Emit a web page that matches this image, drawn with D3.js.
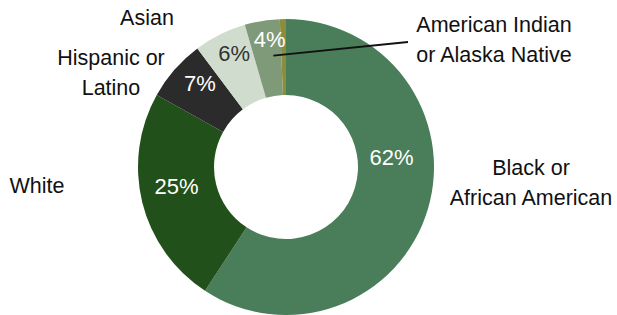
<!DOCTYPE html>
<html>
<head>
<meta charset="utf-8">
<script src="https://cdn.jsdelivr.net/npm/d3@7"></script>
<style>
  body { margin: 0; background: #fff; }
  text { font-family: "Liberation Sans", Arial, sans-serif; }
</style>
</head>
<body>
<svg id="chart" width="617" height="315"></svg>
<script>
// slices, clockwise from 12 o'clock
const categories = ["Black or African American", "White", "Hispanic or Latino", "Asian", "Other", "American Indian or Alaska Native"];
const values = [62, 25, 7, 6, 4, 0.7];
const valueLabels = ["62%", "25%", "7%", "6%", "4%", ""];
const nameLines = [["Black or", "African American"], ["White"], ["Hispanic or", "Latino"], ["Asian"], [], ["American Indian", "or Alaska Native"]];

const colors = ["#4a7d5a", "#22501a", "#2b2b2b", "#d0dccd", "#7f9a79", "#8c8d3a"];
const pctColors = ["#fff", "#fff", "#fff", "#333", "#fff", "#fff"];

// layout of the labels
const pctNudge = [[-22, 106], [4, 111], [3, 120], [2, 125], [2, 129], [0, 110]]; // [deg offset, radius]
const namePos = [[531, 175], [37, 193], [111, 65], [147, 25], null, [494, 32]];
const leader = { angle: 353.5, r: 112, x2: 408, y2: 42 };

const cx = 286, cy = 167, outerR = 148, innerR = 72;

const svg = d3.select("#chart");
const g = svg.append("g").attr("transform", `translate(${cx},${cy})`);

const data = categories.map((c, i) => ({ name: c, value: values[i], i }));
const pie = d3.pie().sort(null).value(d => d.value);
const arc = d3.arc().innerRadius(innerR).outerRadius(outerR);
const arcs = pie(data);

g.selectAll("path.slice")
  .data(arcs)
  .enter().append("path")
    .attr("class", "slice")
    .attr("d", arc)
    .attr("fill", d => colors[d.data.i]);

const polar = (deg, r) => {
  const a = deg * Math.PI / 180;
  return [r * Math.sin(a), -r * Math.cos(a)];
};

g.selectAll("text.pct")
  .data(arcs.filter(d => valueLabels[d.data.i]))
  .enter().append("text")
    .attr("class", "pct")
    .attr("text-anchor", "middle")
    .attr("dy", "0.35em")
    .attr("font-size", 22)
    .attr("fill", d => pctColors[d.data.i])
    .attr("transform", d => {
      const mid = (d.startAngle + d.endAngle) / 2 * 180 / Math.PI;
      const [dA, r] = pctNudge[d.data.i];
      const [x, y] = polar(mid + dA, r);
      return `translate(${x},${y})`;
    })
    .text(d => valueLabels[d.data.i]);

// leader line for the thin slice
const [lx, ly] = polar(leader.angle, leader.r);
svg.append("line")
  .attr("x1", cx + lx).attr("y1", cy + ly)
  .attr("x2", leader.x2).attr("y2", leader.y2)
  .attr("stroke", "#111")
  .attr("stroke-width", 1.8);

// category names
const names = svg.selectAll("text.name")
  .data(data.filter(d => namePos[d.i]))
  .enter().append("text")
    .attr("class", "name")
    .attr("text-anchor", "middle")
    .attr("font-size", 21.5)
    .attr("fill", "#111")
    .attr("x", d => namePos[d.i][0])
    .attr("y", d => namePos[d.i][1]);

names.selectAll("tspan")
  .data(d => nameLines[d.i].map(t => ({ t, x: namePos[d.i][0] })))
  .enter().append("tspan")
    .attr("x", d => d.x)
    .attr("dy", (d, k) => k === 0 ? 0 : 29.5)
    .text(d => d.t);
</script>
</body>
</html>
